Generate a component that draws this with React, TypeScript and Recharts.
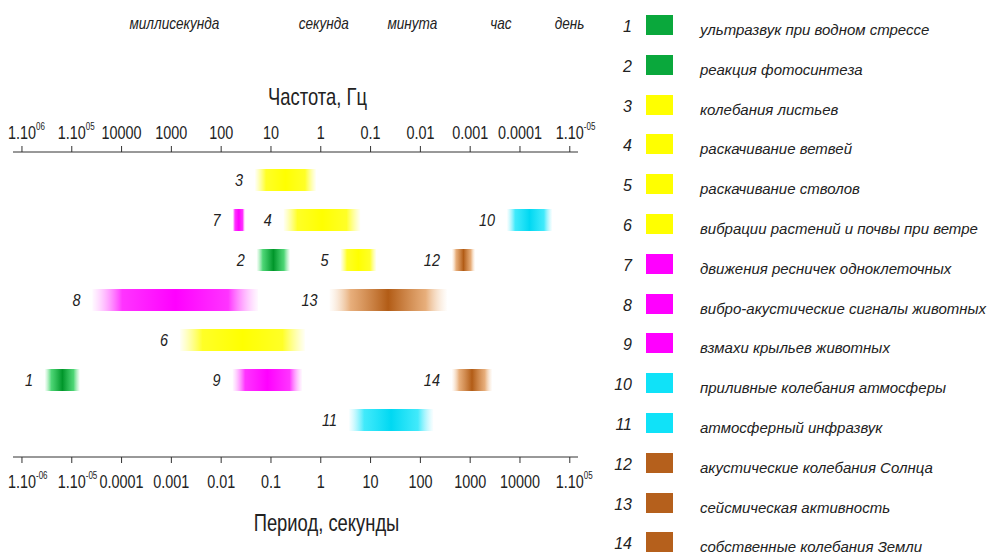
import React from 'react';
import { ComposedChart, Bar, XAxis, YAxis, Cell, LabelList } from 'recharts';

// items 1..14
const itemIds = [1, 2, 3, 4, 5, 6, 7, 8, 9, 10, 11, 12, 13, 14];
const itemNames = [
  'ультразвук при водном стрессе',
  'реакция фотосинтеза',
  'колебания листьев',
  'раскачивание ветвей',
  'раскачивание стволов',
  'вибрации растений и почвы при ветре',
  'движения ресничек одноклеточных',
  'вибро-акустические сигналы животных',
  'взмахи крыльев животных',
  'приливные колебания атмосферы',
  'атмосферный инфразвук',
  'акустические колебания Солнца',
  'сейсмическая активность',
  'собственные колебания Земли',
];
const itemGroups = [
  'green', 'green', 'yellow', 'yellow', 'yellow', 'yellow', 'pink',
  'pink', 'pink', 'cyan', 'cyan', 'brown', 'brown', 'brown',
];
// period range, seconds
const periodFrom = [2.9e-6, 0.052, 0.048, 0.18, 2.5, 0.0015, 0.017, 2.6e-5, 0.017, 5500, 3.7, 430, 1.5, 430];
const periodTo = [1.45e-5, 0.24, 0.8, 6.2, 13, 0.48, 0.03, 0.055, 0.42, 44000, 180, 1250, 340, 2750];
// row on the chart (0 = top)
const itemRows = [5, 2, 0, 1, 2, 4, 1, 3, 5, 1, 6, 2, 3, 5];

const periodTicks = [1e-6, 1e-5, 1e-4, 1e-3, 1e-2, 0.1, 1, 10, 100, 1000, 10000, 1e5];
const periodLabels = ['1.10|-06', '1.10|-05', '0.0001', '0.001', '0.01', '0.1', '1', '10', '100', '1000', '10000', '1.10|05'];
const freqLabels = ['1.10|06', '1.10|05', '10000', '1000', '100', '10', '1', '0.1', '0.01', '0.001', '0.0001', '1.10|-05'];

const unitTicks = [0.001, 1, 60, 3600, 86400];
const unitLabels = ['миллисекунда', 'секунда', 'минута', 'час', 'день'];

const palette: Record<string, { swatch: string; edge: string; mid: string; center: string }> = {
  green: { swatch: '#0aa83c', edge: '#6fe48e', mid: '#2fcf5e', center: '#00962a' },
  yellow: { swatch: '#ffff00', edge: '#ffff40', mid: '#ffff00', center: '#ffff00' },
  pink: { swatch: '#ff00ff', edge: '#ff80ff', mid: '#ff10ff', center: '#ff00ff' },
  cyan: { swatch: '#10e2f8', edge: '#80f0ff', mid: '#20e6fa', center: '#00d8f2' },
  brown: { swatch: '#b5601c', edge: '#f6d2ae', mid: '#e3a064', center: '#b25c16' },
};

const SANS = "'Liberation Sans', Arial, sans-serif";
const TEXT = '#222';
const SQUEEZE = 0.8;

const ROWS = 7;
const SLOTS = 3;
const rows = Array.from({ length: ROWS }, (_, r) => ({ row: r } as Record<string, any>));
itemIds.forEach((id, i) => {
  const r = rows[itemRows[i]];
  let k = 0;
  while (r[`s${k}`]) k++;
  r[`s${k}`] = [periodFrom[i], periodTo[i]];
  r[`id${k}`] = id;
  r[`g${k}`] = itemGroups[i];
});

const domain: [number, number] = [10 ** -6.18, 10 ** 5.165];

// condensed text (narrow font look)
const NText = ({ x, y, size, anchor = 'middle', italic, sx = SQUEEZE, children }: any) => (
  <text
    transform={`translate(${x},${y}) scale(${sx},1)`}
    textAnchor={anchor}
    fontFamily={SANS}
    fontSize={size}
    fontStyle={italic ? 'italic' : 'normal'}
    fill={TEXT}
  >
    {children}
  </text>
);

const SupTick = ({ x, y, payload, labels, below }: any) => {
  const idx = periodTicks.indexOf(payload.value);
  const [main, exp] = String(labels[idx] ?? '').split('|');
  const base = below ? y + 23 : y - 5;
  return (
    <g>
      <NText x={x} y={base} size={18}>{main}</NText>
      {exp && <NText x={x + 14} y={base - 9} size={10} anchor="start">{exp}</NText>}
    </g>
  );
};

const UnitTick = ({ x, y, payload }: any) => {
  const idx = unitTicks.indexOf(payload.value);
  return <NText x={x + 3} y={y - 46} size={16} italic sx={0.85}>{unitLabels[idx]}</NText>;
};

const NumLabel = ({ x, y, height, value }: any) => {
  if (value == null) return null;
  return <NText x={x - 12} y={y + height / 2 + 6} size={17} italic anchor="end" sx={0.85}>{value}</NText>;
};

const TopTitle = ({ viewBox }: any) => (
  <NText x={viewBox.x + viewBox.width / 2 + 22} y={viewBox.y + 28} size={23}>Частота, Гц</NText>
);
const BottomTitle = ({ viewBox }: any) => (
  <NText x={viewBox.x + viewBox.width / 2 + 31} y={viewBox.y + 74} size={23}>Период, секунды</NText>
);

export default function App() {
  return (
    <div style={{ position: 'relative', width: 987, height: 555, background: '#fff', overflow: 'hidden' }}>
      <style>{'body{margin:0}'}</style>
      <ComposedChart
        width={600}
        height={555}
        data={rows}
        layout="vertical"
        margin={{ top: 0, right: 22, bottom: 0, left: 13 }}
        barGap={-22}
        style={{ position: 'absolute', left: 0, top: 0 }}
      >
        <defs>
          {Object.entries(palette).map(([key, c]) => (
            <linearGradient key={key} id={`grad-${key}`} x1="0" y1="0" x2="1" y2="0">
              <stop offset="0%" stopColor={c.edge} stopOpacity={0.05} />
              <stop offset="18%" stopColor={c.mid} stopOpacity={0.85} />
              <stop offset="50%" stopColor={c.center} stopOpacity={1} />
              <stop offset="82%" stopColor={c.mid} stopOpacity={0.85} />
              <stop offset="100%" stopColor={c.edge} stopOpacity={0.05} />
            </linearGradient>
          ))}
        </defs>
        <XAxis
          xAxisId="freq"
          orientation="top"
          type="number"
          scale="log"
          domain={domain}
          allowDataOverflow
          ticks={periodTicks}
          interval={0}
          height={75}
          stroke="#333"
          tickSize={6}
          tick={<SupTick labels={freqLabels} />}
          label={{ content: <TopTitle /> }}
        />
        <XAxis
          xAxisId="units"
          orientation="top"
          type="number"
          scale="log"
          domain={domain}
          allowDataOverflow
          ticks={unitTicks}
          interval={0}
          height={77}
          axisLine={false}
          tickLine={false}
          tickSize={0}
          tick={<UnitTick />}
        />
        <XAxis
          xAxisId="period"
          orientation="bottom"
          type="number"
          scale="log"
          domain={domain}
          allowDataOverflow
          ticks={periodTicks}
          interval={0}
          height={98}
          stroke="#333"
          tickSize={6}
          tick={<SupTick labels={periodLabels} below />}
          label={{ content: <BottomTitle /> }}
        />
        <YAxis yAxisId={0} type="category" dataKey="row" hide padding={{ top: 8, bottom: 17 }} />
        {Array.from({ length: SLOTS }, (_, k) => (
          <Bar
            key={k}
            xAxisId="period"
            dataKey={(d: any) => d[`s${k}`]}
            barSize={22}
            isAnimationActive={false}
          >
            {rows.map((r, i) => (
              <Cell key={i} fill={r[`g${k}`] ? `url(#grad-${r[`g${k}`]})` : 'none'} />
            ))}
            <LabelList dataKey={`id${k}`} content={<NumLabel />} />
          </Bar>
        ))}
      </ComposedChart>
      {itemIds.map((id, i) => (
        <div
          key={id}
          style={{ position: 'absolute', left: 600, top: 15 + i * 39.8, height: 20, width: 387, fontFamily: SANS, fontStyle: 'italic', color: TEXT }}
        >
          <span style={{ position: 'absolute', left: 12, top: 3, width: 20, textAlign: 'right', fontSize: 16 }}>{id}</span>
          <span style={{ position: 'absolute', left: 46, top: 0, width: 27, height: 20, background: palette[itemGroups[i]].swatch }} />
          <span style={{ position: 'absolute', left: 100, top: 6, fontSize: 15, whiteSpace: 'nowrap' }}>{itemNames[i]}</span>
        </div>
      ))}
    </div>
  );
}
